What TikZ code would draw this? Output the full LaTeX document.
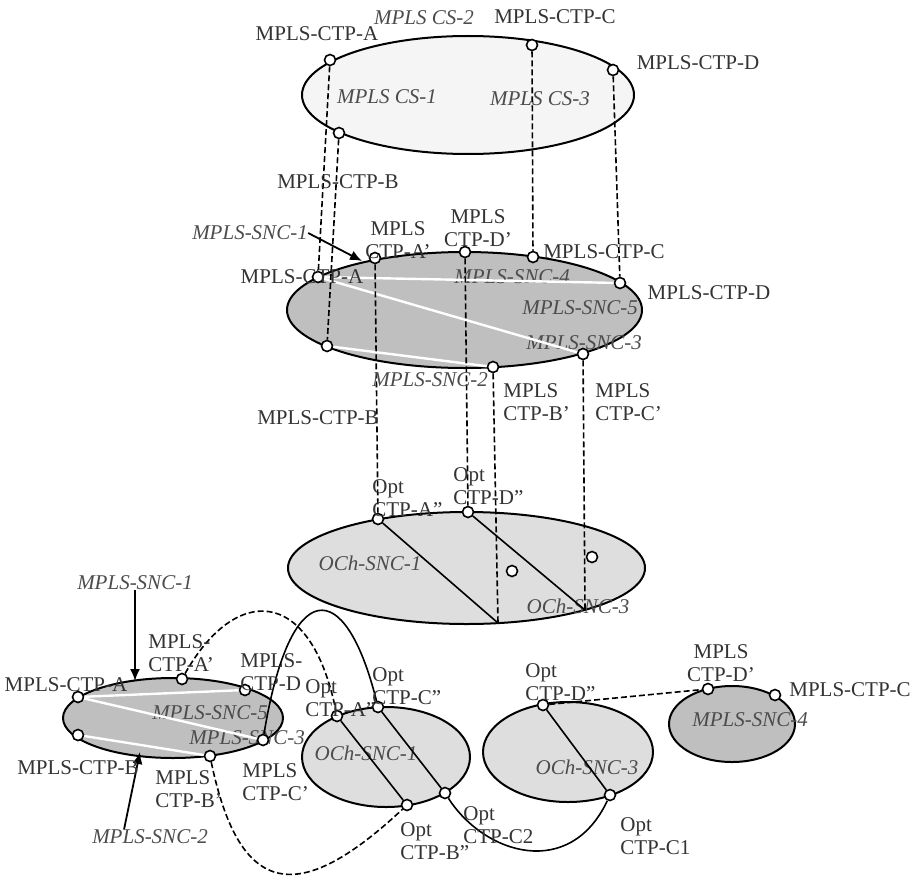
\documentclass[tikz,border=0pt]{standalone}
\usepackage{fontspec}
\setmainfont{Liberation Serif}
\usepackage{xcolor}
\usetikzlibrary{arrows.meta, positioning, calc}

\begin{document}
\begin{tikzpicture}[x=0.5pt, y=-0.5pt,
    every node/.style={font=\fontsize{10.5}{11.5}\selectfont, text=black!80, inner sep=0pt},
    ctp/.style={circle, draw=black, line width=0.8pt, fill=white, minimum size=5.5pt},
    snc/.style={font=\fontsize{10.5}{11.5}\selectfont\itshape, text=black!70},
    two/.style={align=center},
    twol/.style={align=left, anchor=west},
    dsh/.style={line width=0.8pt, dash pattern=on 3pt off 1.5pt},
    xc/.style={line width=0.8pt},
    wl/.style={white, line width=1.2pt},
    arr/.style={line width=0.9pt, -{Latex[length=6pt, width=5pt]}}]
    \useasboundingbox (0,0) rectangle (914,883);

    \filldraw[fill=black!4, line width=1pt] (468,95) ellipse [x radius=83pt, y radius=29.5pt];
    \filldraw[fill=black!25, line width=1pt] (464.5,310) ellipse [x radius=88.75pt, y radius=29pt];
    \filldraw[fill=black!13, line width=1pt] (466.5,568) ellipse [x radius=89.25pt, y radius=28pt];
    \filldraw[fill=black!25, line width=1pt] (173,718) ellipse [x radius=55pt, y radius=20pt];
    \filldraw[fill=black!13, line width=1pt] (386,757) ellipse [x radius=42pt, y radius=25pt];
    \filldraw[fill=black!13, line width=1pt] (568,752) ellipse [x radius=42.5pt, y radius=25pt];
    \filldraw[fill=black!25, line width=1pt] (732,724) ellipse [x radius=31.5pt, y radius=19pt];

    \node[snc] (cs1) at (387,97) {MPLS CS-1};
    \node[snc] (cs3) at (540,99) {MPLS CS-3};
    \node[snc] (msnc4) at (512,277) {MPLS-SNC-4};
    \node[snc] (msnc5) at (580,308) {MPLS-SNC-5};
    \node[snc] (msnc3) at (584,343) {MPLS-SNC-3};
    \node[snc] (och1) at (370,563) {OCh-SNC-1};
    \node[snc] (och3) at (578,606) {OCh-SNC-3};
    \node[snc] (lsnc5) at (210,713) {MPLS-SNC-5};
    \node[snc] (lsnc3) at (247,738) {MPLS-SNC-3};
    \node[snc] (soch1) at (366,753) {OCh-SNC-1};
    \node[snc] (soch3) at (587,767) {OCh-SNC-3};
    \node[snc] (rsnc4) at (750,720) {MPLS-SNC-4};

    \node[ctp] (csA) at (330,60) {};
    \node[ctp] (csB) at (339,133) {};
    \node[ctp] (csC) at (532,45) {};
    \node[ctp] (csD) at (613,70) {};

    \node[ctp] (snA) at (318,277) {};
    \node[ctp] (snAp) at (375,258) {};
    \node[ctp] (snDp) at (465,252) {};
    \node[ctp] (snC) at (533,257) {};
    \node[ctp] (snD) at (620,283) {};
    \node[ctp] (snB) at (327,346) {};
    \node[ctp] (snBp) at (493,367) {};
    \node[ctp] (snCp) at (583,354) {};

    \node[ctp] (ochA) at (378,519) {};
    \node[ctp] (ochD) at (468,512) {};
    \node[ctp] (ochB) at (512,571) {};
    \node[ctp] (ochC) at (592,557) {};
    \coordinate (ochB0) at (498,623);
    \coordinate (ochC0) at (585,610);

    \node[ctp] (lA) at (78,697) {};
    \node[ctp] (lAp) at (182,679) {};
    \node[ctp] (lD) at (245,690) {};
    \node[ctp] (lB) at (78,735) {};
    \node[ctp] (lBp) at (210,756) {};
    \node[ctp] (lCp) at (263,740) {};

    \node[ctp] (oA) at (337,716) {};
    \node[ctp] (oC) at (378,707) {};
    \node[ctp] (oB) at (407,805) {};
    \node[ctp] (oC2) at (445,793) {};
    \node[ctp] (tD) at (543,705) {};
    \node[ctp] (tC1) at (610,795) {};
    \node[ctp] (rDp) at (708,689) {};
    \node[ctp] (rC) at (775,695) {};

    \draw[wl] (snA) -- (snD);
    \draw[wl] (snA) -- (snCp);
    \draw[wl] (snB) -- (snBp);
    \draw[wl] (lA) -- (lD);
    \draw[wl] (lA) -- (lCp);
    \draw[wl] (lB) -- (lBp);

    \draw[dsh] (csA) -- (snA);
    \draw[dsh] (csB) -- (snB);
    \draw[dsh] (csC) -- (snC);
    \draw[dsh] (csD) -- (snD);
    \draw[dsh] (snAp) -- (ochA);
    \draw[dsh] (snDp) -- (ochD);
    \draw[dsh] (snBp) -- (ochB0);
    \draw[dsh] (snCp) -- (ochC0);
    \draw[xc] (ochA) -- (ochB0);
    \draw[xc] (ochD) -- (ochC0);

    \draw[xc] (oA) -- (oB);
    \draw[xc] (oC) -- (oC2);
    \draw[xc] (tD) -- (tC1);
    \draw[dsh] (lAp) .. controls (235,585) and (310,585) .. (oA);
    \draw[xc] (lCp) .. controls (290,575) and (345,575) .. (oC);
    \draw[dsh] (lBp) .. controls (240,900) and (300,905) .. (oB);
    \draw[xc] (oC2) .. controls (485,855) and (570,880) .. (tC1);
    \draw[dsh] (tD) -- (rDp);

    \node[snc] (cs2) at (424,18) {MPLS CS-2};
    \node (tC) at (555,17) {MPLS-CTP-C};
    \node (tA) at (317,34) {MPLS-CTP-A};
    \node (tDl) at (698,63) {MPLS-CTP-D};
    \node (tB) at (338,182) {MPLS-CTP-B};

    \node[snc] (msnc1) at (250,233) {MPLS-SNC-1};
    \coordinate (msnc1t) at (362,261);
    \draw[arr] (msnc1.east) -- (msnc1t);
    \node[two] (mAp) at (398,240) {MPLS\\CTP-A'};
    \node[two] (mDp) at (478,228) {MPLS\\CTP-D'};
    \node (mC) at (604,252) {MPLS-CTP-C};
    \node (mD) at (709,293) {MPLS-CTP-D};
    \node (mA) at (302,277) {MPLS-CTP-A};
    \node[snc] (msnc2) at (430,380) {MPLS-SNC-2};
    \node (mB) at (318,418) {MPLS-CTP-B};
    \node[twol] (mBp) at (503,402) {MPLS\\CTP-B'};
    \node[twol] (mCp) at (595,402) {MPLS\\CTP-C'};

    \node[twol] (ochAl) at (372,498) {Opt\\CTP-A''};
    \node[twol] (ochDl) at (453,486) {Opt\\CTP-D''};

    \node[snc] (lsnc1) at (135,583) {MPLS-SNC-1};
    \coordinate (lsnc1t) at (135,681);
    \draw[arr] (lsnc1.south) -- (lsnc1t);
    \node[snc] (lsnc2) at (150,837) {MPLS-SNC-2};
    \coordinate (lsnc2t) at (140,752);
    \draw[arr] ([xshift=-13pt]lsnc2.north) -- (lsnc2t);
    \node[twol] (lApl) at (148,653) {MPLS-\\CTP-A'};
    \node (lAl) at (66,685) {MPLS-CTP-A};
    \node[twol] (lDl) at (240,672) {MPLS-\\CTP-D};
    \node (lBl) at (78,768) {MPLS-CTP-B};
    \node[twol] (lBpl) at (155,789) {MPLS\\CTP-B'};
    \node[twol] (lCpl) at (242,782) {MPLS\\CTP-C'};

    \node[twol] (oAl) at (305,698) {Opt\\CTP-A''};
    \node[twol] (oCl) at (372,686) {Opt\\CTP-C''};
    \node[twol] (oBl) at (400,841) {Opt\\CTP-B''};
    \node[twol] (oC2l) at (463,825) {Opt\\CTP-C2};
    \node[twol] (tDl2) at (525,682) {Opt\\CTP-D''};
    \node[twol] (tC1l) at (620,836) {Opt\\CTP-C1};
    \node[two] (rDpl) at (721,663) {MPLS\\CTP-D'};
    \node (rCl) at (850,690) {MPLS-CTP-C};
\end{tikzpicture}
\end{document}
